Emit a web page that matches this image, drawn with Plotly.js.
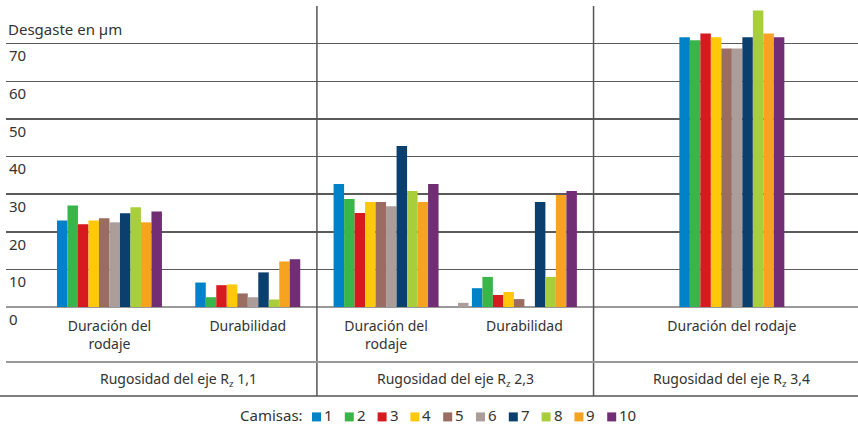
<!DOCTYPE html>
<html>
<head>
<meta charset="utf-8">
<script src="https://cdn.plot.ly/plotly-3.0.1.min.js"></script>
<style>html,body{margin:0;padding:0;background:#fff}#chart{width:858px;height:425px}</style>
</head>
<body>
<div id="chart"></div>
<script>
// ---- data ----
const camisas = ['1','2','3','4','5','6','7','8','9','10'];
const categories = ['Duración del rodaje','Durabilidad','Duración del rodaje','Durabilidad','Duración del rodaje'];
const tickLabels = ['Duración del<br>rodaje','Durabilidad','Duración del<br>rodaje','Durabilidad','Duración del rodaje'];
const groupLabels = ['Rugosidad del eje R<sub>z</sub> 1,1','Rugosidad del eje R<sub>z</sub> 2,3','Rugosidad del eje R<sub>z</sub> 3,4'];
const yTicks = [0,10,20,30,40,50,60,70];
const legendTitle = 'Camisas:';
const camisa1  = [23.0,  6.5, 32.7,  5.0, 71.7];
const camisa2  = [27.0,  2.6, 28.7,  8.0, 70.9];
const camisa3  = [22.0,  5.8, 25.0,  3.2, 72.7];
const camisa4  = [23.0,  6.0, 27.9,  4.0, 71.7];
const camisa5  = [23.6,  3.6, 27.9,  2.1, 68.7];
const camisa6  = [22.5,  2.6, 26.8,  1.1, 68.7];
const camisa7  = [24.9,  9.2, 42.8, 27.9, 71.7];
const camisa8  = [26.5,  2.0, 30.8,  8.0, 78.8];
const camisa9  = [22.5, 12.1, 27.9, 29.8, 72.7];
const camisa10 = [25.4, 12.7, 32.7, 30.8, 71.7];
const series = [camisa1,camisa2,camisa3,camisa4,camisa5,camisa6,camisa7,camisa8,camisa9,camisa10];

// ---- layout / style ----
const colors = ['#0082C8','#3AB54A','#D71920','#FFC80A','#9A6C62','#AB9E9A','#0B3F6E','#A8CE3B','#F6A31F','#712E74'];
const groupPos = [0, 1, 2, 3, 4.5];
const sectionCenters = [0.5, 2.5, 4.5];
const barW = 0.0759;
const font = 'Noto Sans, Open Sans, sans-serif';
const txt = '#333';
// pixel -> paper helpers (plot area: x 6..858, y 6..306.7)
const PL = 6, PW = 852, PB = 306.7, PH = 300.7;
const px = v => (v - PL) / PW;
const py = v => (PB - v) / PH;

const traces = series.map((vals, i) => {
  let off = -5*barW + i*barW;
  if (i === 5) off = groupPos.map((p, g) => g === 3 ? -0.48 : off);
  return {
    type: 'bar', name: 'Camisa ' + camisas[i], x: groupPos, y: vals,
    width: barW, offset: off, showlegend: false,
    marker: {color: colors[i], line: {width: 0}},
    customdata: categories, hovertemplate: '%{customdata}: %{y}<extra>Camisa ' + camisas[i] + '</extra>'
  };
});

const shapes = [];
[1.5, 3.5].forEach(x => shapes.push({type:'line', xref:'x', yref:'paper', x0:x, x1:x, y0:1, y1:py(395.5), line:{color:'#555', width:1.5}}));
shapes.push({type:'line', xref:'paper', yref:'paper', x0:0, x1:1, y0:py(361.7), y1:py(361.7), line:{color:'#999', width:2}});
shapes.push({type:'line', xref:'paper', yref:'paper', x0:px(0), x1:1, y0:py(395.5), y1:py(395.5), line:{color:'#555', width:1.5}});

const annotations = groupLabels.map((t, k) => ({
  text: t, xref:'x', yref:'paper', x: sectionCenters[k], y: py(379), yanchor:'middle', xanchor:'center',
  showarrow:false, font:{family:font, size:14, color:txt}
}));

// custom legend row
const legY = 416.5, legTextY = 414.5, legStart = 312, legStep = 32.8, sq = 9;
annotations.push({text: legendTitle, xref:'paper', yref:'paper', x: px(304), y: py(legTextY), xanchor:'right', yanchor:'middle',
  showarrow:false, borderpad:0, font:{family:font, size:15, color:txt}});
camisas.forEach((c, i) => {
  const x0 = legStart + i*legStep;
  shapes.push({type:'rect', xref:'paper', yref:'paper', x0: px(x0), x1: px(x0+sq), y0: py(legY+sq/2), y1: py(legY-sq/2),
    fillcolor: colors[i], line:{width:0}});
  annotations.push({text: c, xref:'paper', yref:'paper', x: px(x0+sq+2), y: py(legTextY), xanchor:'left', yanchor:'middle',
    showarrow:false, borderpad:0, font:{family:font, size:15, color:txt}});
});

const layout = {
  width: 858, height: 425,
  margin: {l:6, r:0, t:6, b:118.3},
  paper_bgcolor:'#fff', plot_bgcolor:'#fff',
  barmode: 'overlay',
  title: {text:'Desgaste en µm', x: 8/858, xanchor:'left', y: 1-30/425, yanchor:'middle', xref:'container', yref:'container',
          font:{family:font, size:15, color:txt}},
  xaxis: {range:[-0.748, 5.412], tickvals: groupPos, ticktext: tickLabels, showgrid:false, zeroline:false, showline:false,
          ticks:'outside', ticklen:6, tickcolor:'rgba(0,0,0,0)', tickfont:{family:font, size:14, color:txt}, fixedrange:true},
  yaxis: {range:[0,80], tickvals: yTicks, ticktext: yTicks.map(String), showgrid:true, gridcolor:'#5a5a5a', gridwidth:1.5,
          zeroline:true, zerolinecolor:'#999', zerolinewidth:2, showline:false,
          ticklabelposition:'inside bottom', ticklabeloverflow:'allow', ticklabelshift:2,
          tickfont:{family:font, size:15, color:txt}, fixedrange:true},
  shapes, annotations,
  showlegend: false
};

Plotly.newPlot('chart', traces, layout, {displayModeBar:false, staticPlot:true});
</script>
</body>
</html>
